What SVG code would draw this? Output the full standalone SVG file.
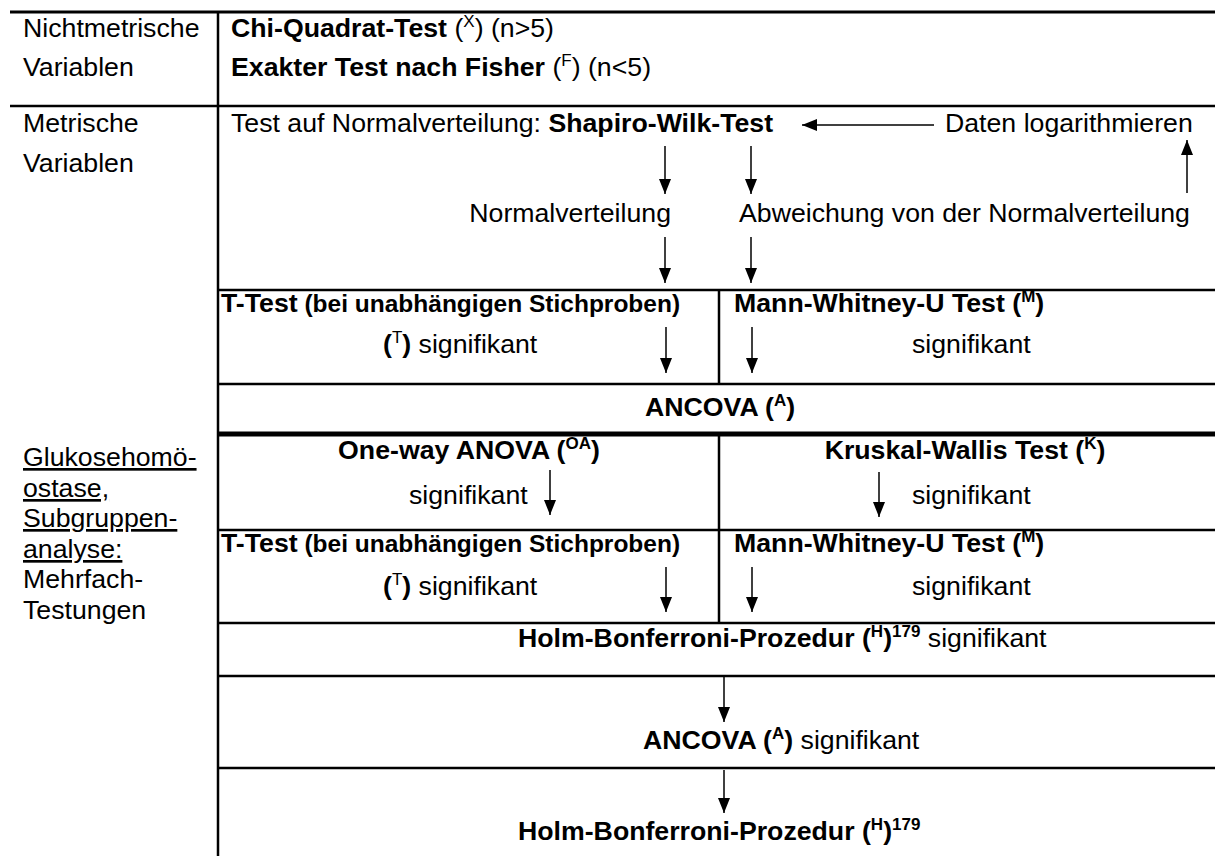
<svg xmlns="http://www.w3.org/2000/svg" width="1215" height="856" viewBox="0 0 1215 856">
<style>
.t{font-family:"Liberation Sans",Arial,sans-serif;font-size:26.7px;fill:#000}
.b{font-weight:bold}
.s{font-size:17px}
.sm{font-size:24.5px;font-weight:bold}
.u{text-decoration:underline}
.g{stroke:#000;stroke-width:2.5;fill:none}
.a{stroke:#000;stroke-width:1.5;fill:none;marker-end:url(#ah)}
</style>
<defs>
<marker id="ah" viewBox="0 0 15 12" refX="15" refY="6" markerWidth="15" markerHeight="12" markerUnits="userSpaceOnUse" orient="auto"><path d="M0,0 L15,6 L0,12 z" fill="#000"/></marker>
</defs>
<rect width="1215" height="856" fill="#fff"/>
<g id="grid">
<line class="g" x1="10" y1="12" x2="1215" y2="12" style="stroke-width:3"/>
<line class="g" x1="10" y1="106" x2="1215" y2="106"/>
<line class="g" x1="218" y1="12" x2="218" y2="856"/>
<line class="g" x1="218" y1="290" x2="1215" y2="290"/>
<line class="g" x1="719" y1="290" x2="719" y2="384"/>
<line class="g" x1="218" y1="384" x2="1215" y2="384"/>
<line class="g" x1="218" y1="434" x2="1215" y2="434" style="stroke-width:5"/>
<line class="g" x1="719" y1="434" x2="719" y2="623"/>
<line class="g" x1="218" y1="530" x2="1215" y2="530"/>
<line class="g" x1="218" y1="623" x2="1215" y2="623"/>
<line class="g" x1="218" y1="676" x2="1215" y2="676"/>
<line class="g" x1="218" y1="768" x2="1215" y2="768"/>
</g>
<g id="labels-left">
<text class="t" x="23" y="37">Nichtmetrische</text>
<text class="t" x="23" y="76">Variablen</text>
<text class="t" x="23" y="132">Metrische</text>
<text class="t" x="23" y="172">Variablen</text>
<text class="t u" x="23" y="466">Glukosehomö-</text>
<text class="t u" x="23" y="497">ostase,</text>
<text class="t u" x="23" y="527">Subgruppen-</text>
<text class="t u" x="23" y="558">analyse:</text>
<text class="t" x="23" y="588">Mehrfach-</text>
<text class="t" x="23" y="619">Testungen</text>
</g>
<g id="node-chi"><text class="t" x="231" y="37"><tspan class="b">Chi-Quadrat-Test</tspan> (<tspan class="s" dy="-10">X</tspan><tspan dy="10">) (n&gt;5)</tspan></text></g>
<g id="node-fisher"><text class="t" x="231" y="76"><tspan class="b">Exakter Test nach Fisher</tspan> (<tspan class="s" dy="-10">F</tspan><tspan dy="10">) (n&lt;5)</tspan></text></g>
<g id="node-shapiro"><text class="t" x="231" y="132">Test auf Normalverteilung: <tspan class="b">Shapiro-Wilk-Test</tspan></text></g>
<g id="node-log"><text class="t" x="945" y="132">Daten logarithmieren</text></g>
<g id="node-normal"><text class="t" x="671" y="222" text-anchor="end">Normalverteilung</text></g>
<g id="node-abw"><text class="t" x="739" y="222">Abweichung von der Normalverteilung</text></g>
<g id="node-ttest1">
<text class="t" x="221" y="312"><tspan class="b">T-Test</tspan><tspan class="sm"> (bei unabhängigen Stichproben)</tspan></text>
<text class="t" x="383" y="353"><tspan class="b">(</tspan><tspan class="s" dy="-10">T</tspan><tspan class="b" dy="10">)</tspan> signifikant</text>
</g>
<g id="node-mwu1">
<text class="t" x="734" y="312"><tspan class="b">Mann-Whitney-U Test (</tspan><tspan class="s b" dy="-10">M</tspan><tspan class="b" dy="10">)</tspan></text>
<text class="t" x="912" y="353">signifikant</text>
</g>
<g id="node-ancova1"><text class="t b" x="645" y="416">ANCOVA (<tspan class="s" dy="-10">A</tspan><tspan dy="10">)</tspan></text></g>
<g id="node-oneway">
<text class="t b" x="469" y="459" text-anchor="middle">One-way ANOVA (<tspan class="s" dy="-10">OA</tspan><tspan dy="10">)</tspan></text>
<text class="t" x="409" y="504">signifikant</text>
</g>
<g id="node-kruskal">
<text class="t b" x="965" y="459" text-anchor="middle">Kruskal-Wallis Test (<tspan class="s" dy="-10">K</tspan><tspan dy="10">)</tspan></text>
<text class="t" x="912" y="504">signifikant</text>
</g>
<g id="node-ttest2">
<text class="t" x="221" y="552"><tspan class="b">T-Test</tspan><tspan class="sm"> (bei unabhängigen Stichproben)</tspan></text>
<text class="t" x="383" y="595"><tspan class="b">(</tspan><tspan class="s" dy="-10">T</tspan><tspan class="b" dy="10">)</tspan> signifikant</text>
</g>
<g id="node-mwu2">
<text class="t" x="734" y="552"><tspan class="b">Mann-Whitney-U Test (</tspan><tspan class="s b" dy="-10">M</tspan><tspan class="b" dy="10">)</tspan></text>
<text class="t" x="912" y="595">signifikant</text>
</g>
<g id="node-holm1"><text class="t" x="518" y="647"><tspan class="b">Holm-Bonferroni-Prozedur (</tspan><tspan class="s b" dy="-10">H</tspan><tspan class="b" dy="10">)</tspan><tspan class="s b" dy="-10">179</tspan><tspan dy="10"> signifikant</tspan></text></g>
<g id="node-ancova2"><text class="t" x="643" y="749"><tspan class="b">ANCOVA (</tspan><tspan class="s b" dy="-10">A</tspan><tspan class="b" dy="10">)</tspan> signifikant</text></g>
<g id="node-holm2"><text class="t" x="518" y="840"><tspan class="b">Holm-Bonferroni-Prozedur (</tspan><tspan class="s b" dy="-10">H</tspan><tspan class="b" dy="10">)</tspan><tspan class="s b" dy="-10">179</tspan></text></g>
<g id="connectors">
<line class="a" x1="934" y1="125" x2="802" y2="125"/>
<line class="a" x1="1187" y1="193" x2="1187" y2="140"/>
<line class="a" x1="665" y1="146" x2="665" y2="194"/>
<line class="a" x1="751" y1="146" x2="751" y2="194"/>
<line class="a" x1="665" y1="237" x2="665" y2="283"/>
<line class="a" x1="751" y1="237" x2="751" y2="283"/>
<line class="a" x1="666" y1="327" x2="666" y2="373"/>
<line class="a" x1="752" y1="327" x2="752" y2="373"/>
<line class="a" x1="550" y1="470" x2="550" y2="515"/>
<line class="a" x1="879" y1="472" x2="879" y2="517"/>
<line class="a" x1="666" y1="567" x2="666" y2="612"/>
<line class="a" x1="752" y1="567" x2="752" y2="612"/>
<line class="a" x1="724" y1="677" x2="724" y2="722"/>
<line class="a" x1="724" y1="770" x2="724" y2="813"/>
</g>
</svg>
